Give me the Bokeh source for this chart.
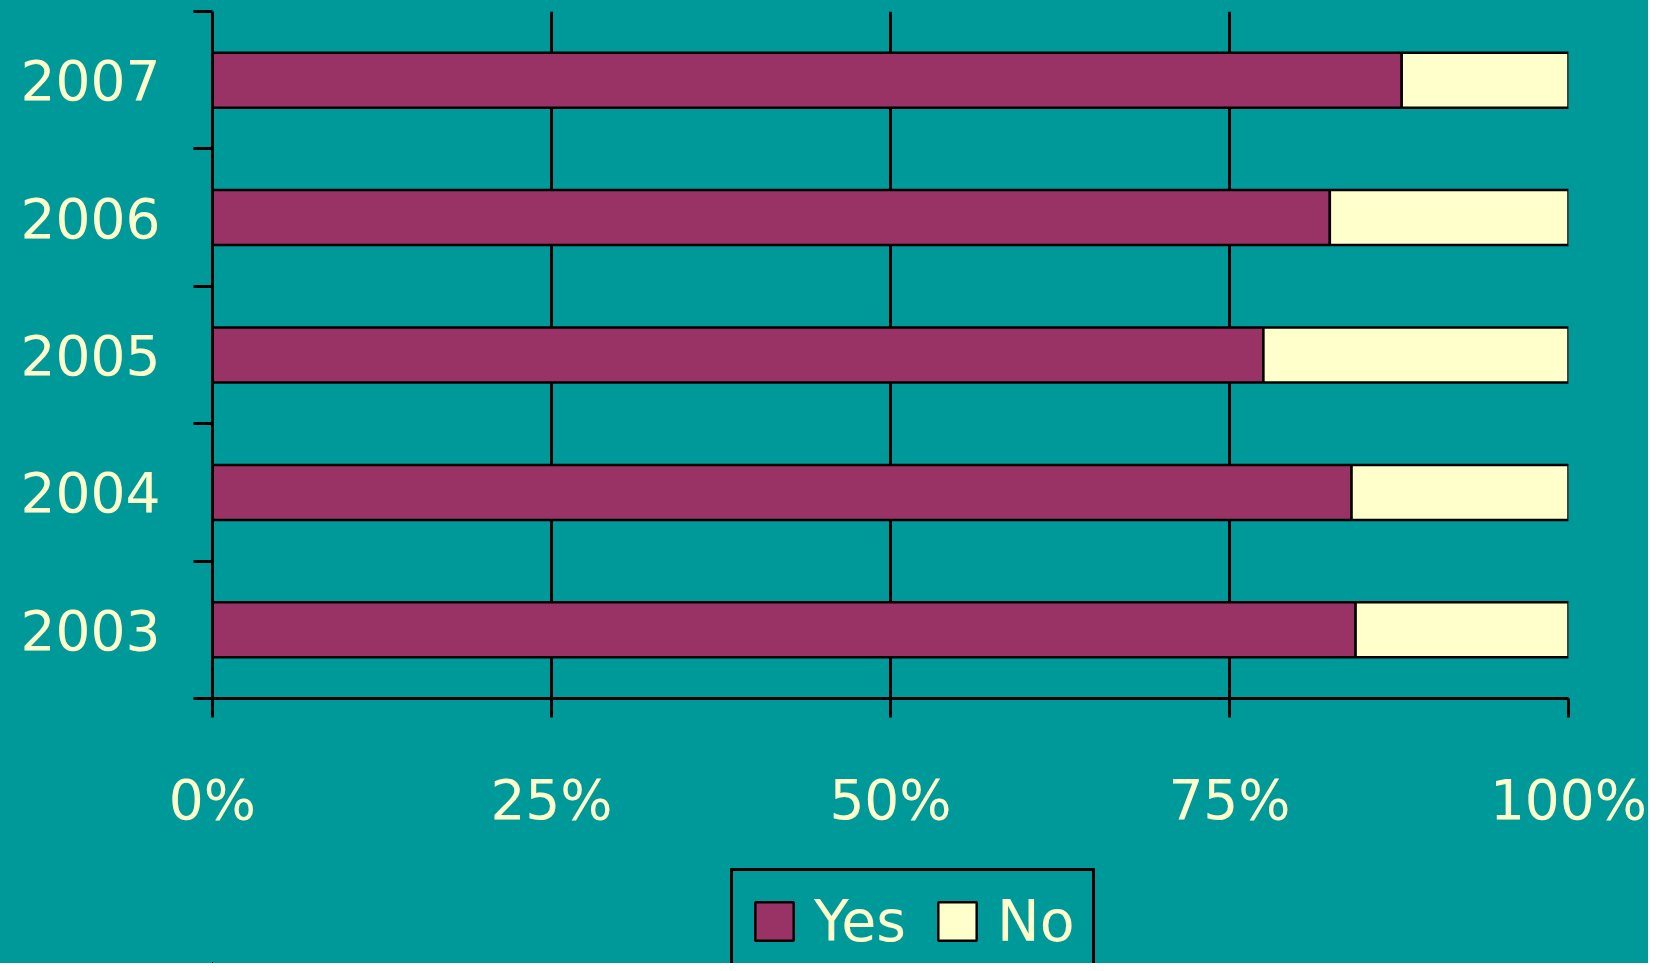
from bokeh.plotting import figure
from bokeh.models import Range1d, FixedTicker, Legend, LegendItem, ColumnDataSource
from bokeh.layouts import column
from bokeh.embed import file_html
from bokeh.resources import INLINE

years = ["2003", "2004", "2005", "2006", "2007"]
yes_pct = [84.3, 84.0, 77.5, 82.4, 87.7]
no_pct = [100 - v for v in yes_pct]
x_ticks = [0, 25, 50, 75, 100]
x_labels = ["0%", "25%", "50%", "75%", "100%"]
series = ["Yes", "No"]

BG = "#009999"
YES_C = "#993366"
NO_C = "#FFFFCC"
TXT = "#FFFFCC"
FONT = "DejaVu Sans"
W = 1648
H1 = 850
H2 = 113

pos = [i + 0.5 for i in range(len(years))]
src = ColumnDataSource(dict(
    y=pos,
    yes_l=[0] * len(years), yes_r=yes_pct,
    no_l=yes_pct, no_r=[a + b for a, b in zip(yes_pct, no_pct)],
))

p = figure(width=W, height=H1, output_backend="svg", toolbar_location=None,
           x_range=Range1d(0, 100), y_range=Range1d(0, len(years)),
           min_border_left=212, min_border_right=80, min_border_top=11, min_border_bottom=152)
p.background_fill_color = None
p.border_fill_color = BG
p.outline_line_color = None

r_yes = p.hbar(y="y", left="yes_l", right="yes_r", height=0.4, source=src,
               fill_color=YES_C, line_color="black", line_width=2.5)
r_no = p.hbar(y="y", left="no_l", right="no_r", height=0.4, source=src,
              fill_color=NO_C, line_color="black", line_width=2.5)

# x axis
p.xaxis.ticker = FixedTicker(ticks=x_ticks)
p.xaxis.major_label_overrides = {t: l for t, l in zip(x_ticks, x_labels)}
p.xaxis.axis_line_width = 3
p.xaxis.axis_line_color = "black"
p.xaxis.major_tick_out = 19
p.xaxis.major_tick_in = 0
p.xaxis.major_tick_line_width = 3
p.xaxis.major_tick_line_color = "black"
p.xaxis.minor_tick_line_color = None
p.xaxis.major_label_standoff = 50
p.xaxis.major_label_text_font = FONT
p.xaxis.major_label_text_font_size = "55px"
p.xaxis.major_label_text_color = TXT

# y axis
p.yaxis.ticker = FixedTicker(ticks=pos, minor_ticks=list(range(len(years) + 1)))
p.yaxis.major_label_overrides = {v: y for v, y in zip(pos, years)}
p.yaxis.axis_line_width = 3
p.yaxis.axis_line_color = "black"
p.yaxis.major_tick_line_color = None
p.yaxis.major_tick_out = 0
p.yaxis.major_tick_in = 0
p.yaxis.minor_tick_out = 19
p.yaxis.minor_tick_in = 0
p.yaxis.minor_tick_line_width = 3
p.yaxis.minor_tick_line_color = "black"
p.yaxis.major_label_standoff = 33
p.yaxis.major_label_text_font = FONT
p.yaxis.major_label_text_font_size = "55px"
p.yaxis.major_label_text_color = TXT

# grid
p.ygrid.grid_line_color = None
p.xgrid.ticker = FixedTicker(ticks=x_ticks)
p.xgrid.grid_line_color = "black"
p.xgrid.grid_line_width = 3

# legend strip (its bars lie outside its view; only the legend shows)
p2 = figure(width=W, height=H2, output_backend="svg", toolbar_location=None,
            x_axis_type=None, y_axis_type=None,
            x_range=Range1d(1000, 1100), y_range=Range1d(1000, 1005),
            min_border_left=212, min_border_right=80, min_border_top=0, min_border_bottom=0)
p2.background_fill_color = None
p2.border_fill_color = BG
p2.outline_line_color = None
p2.grid.visible = False
lr_yes = p2.hbar(y="y", left="yes_l", right="yes_r", height=0.4, source=src,
                 fill_color=YES_C, line_color="black", line_width=2.5)
lr_no = p2.hbar(y="y", left="no_l", right="no_r", height=0.4, source=src,
                fill_color=NO_C, line_color="black", line_width=2.5)

legend = Legend(items=[LegendItem(label=series[0], renderers=[lr_yes]),
                       LegendItem(label=series[1], renderers=[lr_no])],
                orientation="horizontal", location=(518, -11),
                padding=17, spacing=27, label_standoff=16,
                glyph_width=48, glyph_height=48, margin=0,
                label_text_font=FONT, label_text_font_size="57px",
                label_text_color=TXT,
                border_line_color="black", border_line_width=3, border_line_alpha=1.0,
                background_fill_color=BG, background_fill_alpha=1.0)
p2.add_layout(legend, "center")

layout = column(p, p2, spacing=0, styles={"background-color": BG})
open("out.html", "w").write(file_html(layout, INLINE))
